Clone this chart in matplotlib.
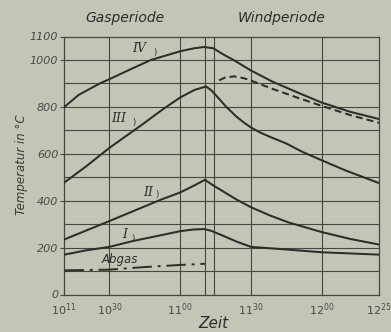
import matplotlib
matplotlib.use("Agg")
import matplotlib.pyplot as plt

# time in minutes after 10:00
t_iv = [11, 17, 26, 30, 40, 47.6, 55, 60, 66, 70, 74, 78, 82.4, 90, 99, 110, 120, 132, 144.2]
v_iv = [800, 851, 900, 918, 965, 1000, 1022, 1037, 1050, 1055, 1050, 1025, 1001, 955, 908, 860, 818, 779, 748]

t_ivw = [76.5, 79, 83, 87, 90, 99, 110, 120, 132, 144.2]
v_ivw = [913, 925, 930, 922, 912, 877, 838, 804, 765, 732]

t_iii = [11, 20, 30, 43, 53, 60, 66, 71, 73, 75, 79.5, 84, 87, 90, 94, 99, 104.7, 112, 120, 130, 144.2]
v_iii = [478, 545, 625, 718, 792, 840, 872, 887, 872, 851, 800, 757, 733, 712, 690, 668, 645, 607, 572, 529, 475]

t_ii = [11, 30, 51.5, 60, 66, 70.5, 74, 77.8, 84, 90, 98, 106, 120, 132, 144.2]
v_ii = [235, 313, 403, 435, 465, 489, 465, 442, 404, 372, 337, 307, 266, 237, 213]

t_i = [11, 20, 30, 40, 51.5, 60, 65.5, 70, 73, 77.8, 84, 90, 101, 120, 144.2]
v_i = [170, 188, 203, 228, 252, 270, 277, 279, 272, 252, 225, 203, 195, 180, 170]

t_abgas = [11, 30, 45, 60, 70.5]
v_abgas = [103, 106, 117, 126, 131]

grid_x = [30, 60, 70.5, 74.5, 90, 120]
grid_y = list(range(100, 1100, 100))

xticks = [10.8, 30, 60, 90, 120, 144.2]
xlabels = [r"$\mathit{10}^{\mathit{11}}$", r"$\mathit{10}^{\mathit{30}}$", r"$\mathit{11}^{\mathit{00}}$",
           r"$\mathit{11}^{\mathit{30}}$", r"$\mathit{12}^{\mathit{00}}$", r"$\mathit{12}^{\mathit{25}}$"]
yticks = [0, 200, 400, 600, 800, 1000, 1100]

bg = "#c3c5b7"
ink = "#2c2c2a"
grid_c = "#464741"

fig = plt.figure(figsize=(3.91, 3.32), dpi=100, facecolor=bg)
ax = fig.add_axes([64 / 391, 1 - 294.5 / 332, 315 / 391, 258 / 332])
ax.set_facecolor(bg)
ax.set_xlim(10.8, 144.2)
ax.set_ylim(0, 1100)

for gx in grid_x:
    ax.axvline(gx, color=grid_c, lw=0.8, zorder=1)
for gy in grid_y:
    ax.axhline(gy, color=grid_c, lw=0.8, zorder=1)

lw = 1.45
ax.plot(t_iv, v_iv, color=ink, lw=lw, zorder=3)
ax.plot(t_ivw, v_ivw, color=ink, lw=lw, ls=(0, (3.5, 2)), zorder=3)
ax.plot(t_iii, v_iii, color=ink, lw=lw, zorder=3)
ax.plot(t_ii, v_ii, color=ink, lw=lw, zorder=3)
ax.plot(t_i, v_i, color=ink, lw=lw, zorder=3)
ax.plot(t_abgas, v_abgas, color=ink, lw=1.4, ls=(0, (10, 3, 1.5, 3)), zorder=3)

for s in ax.spines.values():
    s.set_color(grid_c)
    s.set_linewidth(0.9)

ax.set_xticks(xticks)
ax.set_xticklabels(xlabels, fontsize=8, color="#4a4a46")
ax.set_yticks(yticks)
ax.set_yticklabels([str(v) for v in yticks], fontsize=8, color="#4a4a46", fontstyle="italic")
ax.tick_params(axis="x", length=0, pad=5)
ax.tick_params(axis="y", length=3, width=0.8, color=grid_c, pad=1)

fig.text(22 / 391, 1 - 165 / 332, "Temperatur in °C", rotation=90, ha="center", va="center",
         fontsize=8.5, color="#3a3a36", fontstyle="italic")
fig.text(213 / 391, 1 - 323 / 332, "Zeit", ha="center", va="center", fontsize=11,
         color=ink, fontstyle="italic")
fig.text(125 / 391, 1 - 18 / 332, "Gasperiode", ha="center", va="center", fontsize=10,
         color=ink, fontstyle="italic")
fig.text(282 / 391, 1 - 18 / 332, "Windperiode", ha="center", va="center", fontsize=10,
         color=ink, fontstyle="italic")

# curve names
lab = dict(ha="center", va="center", fontsize=9, color=ink, fontstyle="italic",
           family="DejaVu Serif")
for txt, px, py in [("IV", 139, 48), ("III", 119, 119), ("II", 148, 192), ("I", 125, 235)]:
    fig.text(px / 391, 1 - py / 332, txt, **lab)
for px, py in [(155, 52), (134, 122), (157, 195), (133, 239)]:
    fig.text(px / 391, 1 - py / 332, ")", ha="center", va="center", fontsize=6, color=ink)
fig.text(120 / 391, 1 - 259 / 332, "Abgas", ha="center", va="center", fontsize=8.5,
         color=ink, fontstyle="italic")

fig.savefig("out.png", dpi=100, facecolor=bg)
